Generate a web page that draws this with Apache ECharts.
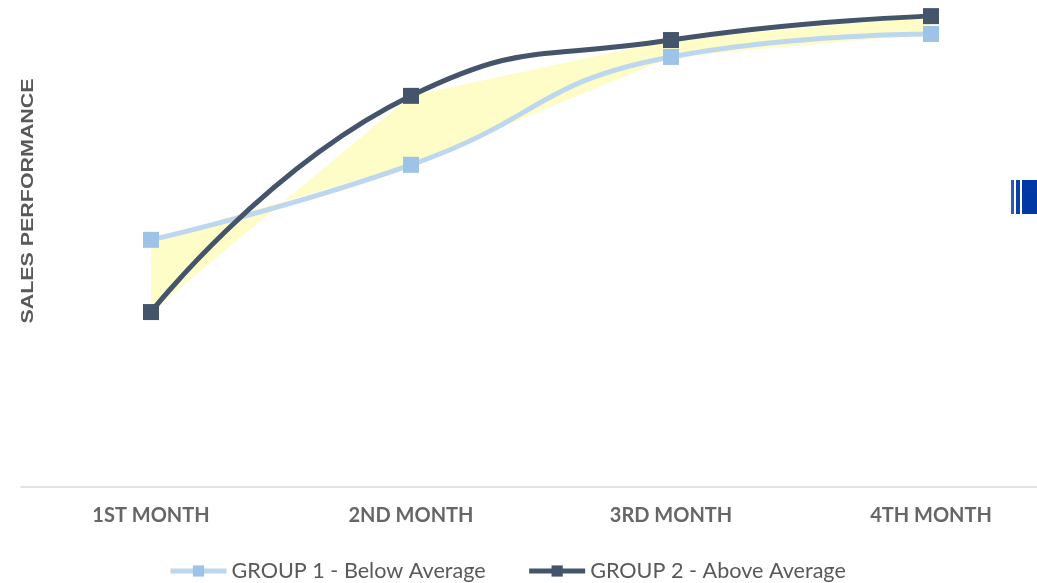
<!DOCTYPE html>
<html>
<head>
<meta charset="utf-8">
<script src="https://cdn.jsdelivr.net/npm/echarts@6/dist/echarts.min.js"></script>
<style>
  html, body { margin: 0; padding: 0; background: #ffffff; }
  #chart { width: 1037px; height: 583px; }
</style>
</head>
<body>
<div id="chart"></div>
<script>
// Month categories along the bottom axis
const months = ['1ST MONTH', '2ND MONTH', '3RD MONTH', '4TH MONTH'];
// Sales performance scores per group
const group1Name = 'GROUP 1 - Below Average';
const group2Name = 'GROUP 2 - Above Average';
const group1 = [52.7, 68.7, 91.7, 96.6];
const group2 = [37.3, 83.4, 95.3, 100.4];
const yTitle = 'SALES PERFORMANCE';

const chart = echarts.init(document.getElementById('chart'));

// Band between the two groups, one quad (or bow-tie where they cross) per segment
function renderBand(params, api) {
  const i = api.value(0);
  const p1 = api.coord([i, group1[i]]);
  const p2 = api.coord([i + 1, group1[i + 1]]);
  const q2 = api.coord([i + 1, group2[i + 1]]);
  const q1 = api.coord([i, group2[i]]);
  return {
    type: 'polygon',
    shape: { points: [p1, p2, q2, q1] },
    style: { fill: '#fefdc8', stroke: null }
  };
}

chart.setOption({
  animation: false,
  backgroundColor: '#ffffff',
  // plot area runs past the right edge so the four bands are 260px wide
  grid: {
    left: 21, top: 18, width: 1040, height: 469,
    outerBoundsMode: 'none', containLabel: false
  },
  xAxis: {
    type: 'category',
    data: months,
    boundaryGap: true,
    axisLine: { show: true, lineStyle: { color: '#d9d9d9', width: 1.5 } },
    axisTick: { show: false },
    axisLabel: {
      margin: 19,
      color: '#666666',
      fontFamily: 'Lato',
      fontWeight: 'bold',
      fontSize: 20
    },
    splitLine: { show: false }
  },
  yAxis: {
    type: 'value',
    min: 0,
    max: 100,
    show: false
  },
  legend: {
    left: 168,
    top: 560,
    padding: 0,
    itemWidth: 56,
    itemHeight: 14,
    itemGap: 41,
    lineStyle: { width: 5 },
    textStyle: { color: '#595959', fontFamily: 'Lato', fontSize: 21.6 },
    data: [group1Name, group2Name]
  },
  graphic: [
    {
      type: 'text',
      x: 28,
      y: 201,
      rotation: Math.PI / 2,
      scaleX: 1.26,
      style: {
        text: yTitle,
        font: 'bold 17px "Liberation Sans", Arial, sans-serif',
        fill: '#595959',
        align: 'center',
        verticalAlign: 'middle'
      }
    },
    { type: 'rect', shape: { x: 1011, y: 180, width: 3, height: 34 }, style: { fill: '#2a5cc0' } },
    { type: 'rect', shape: { x: 1016, y: 180, width: 4, height: 34 }, style: { fill: '#0a3fa8' } },
    { type: 'rect', shape: { x: 1022, y: 180, width: 15, height: 34 }, style: { fill: '#0039a6' } }
  ],
  series: [
    {
      type: 'custom',
      name: 'band',
      renderItem: renderBand,
      data: [[0], [1], [2]],
      encode: { x: 0 },
      z: 1,
      silent: true,
      clip: false
    },
    {
      type: 'line',
      name: group1Name,
      data: group1,
      smooth: 0.5,
      symbol: 'rect',
      symbolSize: 16,
      clip: false,
      z: 3,
      lineStyle: { color: '#bdd7ee', width: 5 },
      itemStyle: { color: '#9dc3e6', borderWidth: 0 }
    },
    {
      type: 'line',
      name: group2Name,
      data: group2,
      smooth: 0.5,
      symbol: 'rect',
      symbolSize: 16,
      clip: false,
      z: 4,
      lineStyle: { color: '#44546a', width: 5 },
      itemStyle: { color: '#44546a', borderWidth: 0 }
    }
  ]
});
</script>
</body>
</html>
